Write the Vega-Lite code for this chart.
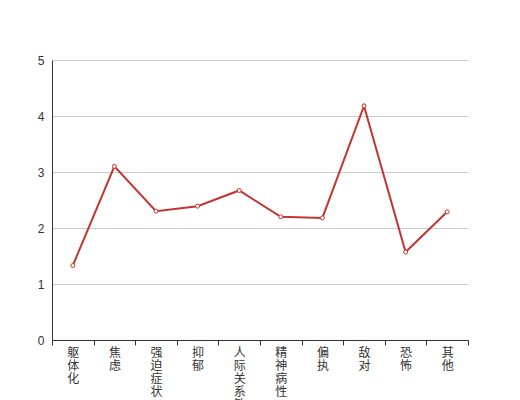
{
  "$schema": "https://vega.github.io/schema/vega-lite/v6.json",
  "width": 416,
  "height": 280,
  "autosize": {"type": "none"},
  "padding": {"left": 52, "top": 60, "right": 52, "bottom": 60},
  "background": "white",
  "config": {
    "view": {"stroke": null},
    "font": "Noto Sans CJK SC"
  },
  "data": {
    "values": [
      {"category": "躯体化", "value": 1.33},
      {"category": "焦虑", "value": 3.10},
      {"category": "强迫症状", "value": 2.30},
      {"category": "抑郁", "value": 2.39},
      {"category": "人际关系敏感", "value": 2.67},
      {"category": "精神病性", "value": 2.20},
      {"category": "偏执", "value": 2.18},
      {"category": "敌对", "value": 4.18},
      {"category": "恐怖", "value": 1.57},
      {"category": "其他", "value": 2.29}
    ]
  },
  "encoding": {
    "x": {
      "field": "category",
      "type": "nominal",
      "sort": null,
      "bandPosition": 0.5,
      "scale": {"type": "band", "paddingInner": 0, "paddingOuter": 0},
      "axis": {
        "title": null,
        "labelAngle": 0,
        "labelExpr": "split(datum.label, '')",
        "labelLineHeight": 13,
        "labelFontSize": 12,
        "labelColor": "#333",
        "labelBaseline": "top",
        "labelPadding": 2,
        "labelLimit": 0,
        "tickBand": "extent",
        "tickSize": 5,
        "tickColor": "#333",
        "domainColor": "#333",
        "grid": false
      }
    },
    "y": {
      "field": "value",
      "type": "quantitative",
      "scale": {"domain": [0, 5]},
      "axis": {
        "title": null,
        "values": [0, 1, 2, 3, 4, 5],
        "ticks": false,
        "labelPadding": 8,
        "labelFontSize": 12,
        "labelColor": "#333",
        "labelFont": "Liberation Sans",
        "domainColor": "#333",
        "gridColor": "#ccc"
      }
    }
  },
  "layer": [
    {"mark": {"type": "line", "color": "#c23531", "strokeWidth": 2}},
    {"mark": {"type": "point", "filled": true, "fill": "white", "stroke": "#c23531", "strokeWidth": 1, "size": 16, "opacity": 1}}
  ]
}
